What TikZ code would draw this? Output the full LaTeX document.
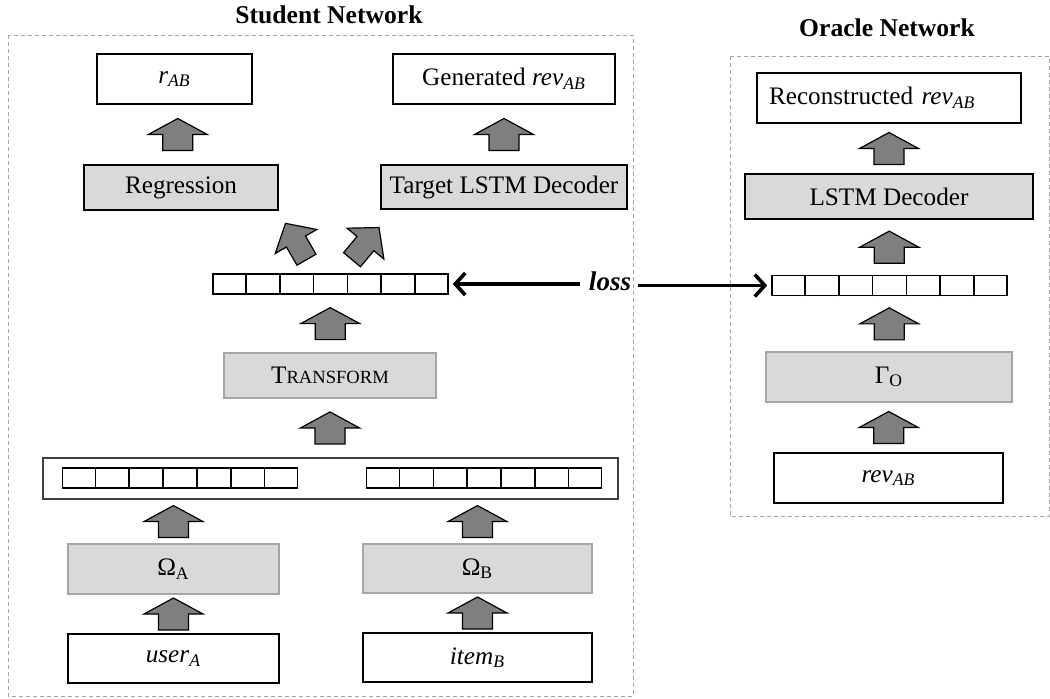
\documentclass[tikz,border=0pt]{standalone}
\usepackage{fontspec}
\setmainfont{Liberation Serif}
\usetikzlibrary{calc,arrows.meta}
\definecolor{boxgray}{HTML}{D9D9D9}
\definecolor{arrgray}{HTML}{7F7F7F}
\definecolor{edgegray}{HTML}{A6A6A6}
\definecolor{framegray}{HTML}{A6A6A6}
\definecolor{outergray}{HTML}{404040}
\begin{document}
\begin{tikzpicture}[x=0.5pt,y=-0.5pt,
  font=\fontsize{12.6}{14}\selectfont,
  whitebox/.style={draw=black,fill=white,line width=0.6pt,inner sep=0pt},
  graybox/.style={draw=black,fill=boxgray,line width=0.6pt,inner sep=0pt},
  lightbox/.style={draw=edgegray,fill=boxgray,line width=0.6pt,inner sep=0pt},
  vecbox/.style={draw=black,fill=white,line width=0.8pt,inner sep=0pt,minimum width=117.5pt,minimum height=10pt},
  netframe/.style={draw=framegray,dash pattern=on 2pt off 1.5pt,line width=0.5pt},
  blockarrow/.style={draw=black,fill=arrgray,line width=0.6pt,line join=miter},
  uparrow/.pic={\path[blockarrow] (-15,16) -- (-15,0) -- (-29.5,0) -- (0,-16) -- (29.5,0) -- (15,0) -- (15,16) -- cycle;},
  tiltarrow/.pic={\path[blockarrow] (-11,0) -- (-11,-21) -- (-24,-21) -- (0,-42) -- (24,-21) -- (11,-21) -- (11,0) -- cycle;},
  lossline/.style={line width=1.8pt,-{Straight Barb[length=5pt,width=11pt]}},
  nettitle/.style={font=\fontsize{12.8}{14}\selectfont\bfseries}
]
\useasboundingbox (0,0) rectangle (1050,698);

% frames and titles
\draw[netframe] (8,35) rectangle (633,696);
\draw[netframe] (730,56) rectangle (1049,516);
\node[nettitle] (stitle) at (329,15) {Student Network};
\node[nettitle] (otitle) at (887,28) {Oracle Network};

% student network
\node[whitebox,minimum width=77.5pt,minimum height=25pt] (rab) at (174.5,79) {\textit{r}\textsubscript{\textit{AB}}};
\node[whitebox,minimum width=111pt,minimum height=25pt] (gen) at (504,79) {Generated \textit{rev}\textsubscript{\textit{AB}}};
\node[graybox,minimum width=97pt,minimum height=22.5pt] (reg) at (181,187.5) {Regression};
\node[graybox,minimum width=123pt,minimum height=22pt] (tld) at (504,187) {Target LSTM Decoder};
\node[vecbox] (svec) at (330.5,284) {};
\node[lightbox,minimum width=106pt,minimum height=22.5pt] (trans) at (330,375.5) {T{\fontsize{9.3}{10}\selectfont RANSFORM}};
\node[draw=outergray,fill=white,line width=0.7pt,inner sep=0pt,minimum width=287.5pt,minimum height=20.5pt] (cat) at (330.5,478.5) {};
\node[vecbox] (uvec) at (180,478) {};
\node[vecbox] (ivec) at (484,478) {};
\node[lightbox,minimum width=105.5pt,minimum height=25pt] (oma) at (173.5,569) {Ω\textsubscript{A}};
\node[lightbox,minimum width=114.5pt,minimum height=24.5pt] (omb) at (477.5,568.5) {Ω\textsubscript{B}};
\node[whitebox,minimum width=105.5pt,minimum height=24.5pt] (user) at (173.5,658.5) {\textit{user}\textsubscript{\textit{A}}};
\node[whitebox,minimum width=114.5pt,minimum height=24.5pt] (item) at (477.5,657.5) {\textit{item}\textsubscript{\textit{B}}};

% oracle network
\node[whitebox,minimum width=132pt,minimum height=25pt,text width=120pt,align=left,inner xsep=6pt] (recon) at (889,98) {Reconstructed \textit{rev}\textsubscript{\textit{AB}}};
\node[graybox,minimum width=144pt,minimum height=22.5pt] (lstm) at (889,196.5) {LSTM Decoder};
\node[vecbox] (ovec) at (889.5,285.5) {};
\node[lightbox,minimum width=123pt,minimum height=25pt] (gam) at (889,377) {Γ\textsubscript{O}};
\node[whitebox,minimum width=114.5pt,minimum height=25pt] (rev) at (888.5,478) {\textit{rev}\textsubscript{\textit{AB}}};

% vector cells
\foreach \v in {svec,uvec,ivec,ovec}
  \foreach \i in {1,...,6}
    \draw[line width=0.8pt] ($(\v.south west)!\i/7!(\v.south east)$) -- ($(\v.north west)!\i/7!(\v.north east)$);

% block arrows (student)
\pic at ($(reg.north)!0.5!(rab.south)$) {uparrow};
\pic at ($(tld.north)!0.5!(gen.south)$) {uparrow};
\pic[rotate=30] at ($(svec.north)+(-24,-13.5)$) {tiltarrow};
\pic[rotate=-40] at ($(svec.north)+(21.5,-13.5)$) {tiltarrow};
\pic at ($(svec.south)!0.5!(trans.north)$) {uparrow};
\pic at ($(trans.north |- cat.north)!0.5!(trans.south)$) {uparrow};
\pic at ($(oma.north)!0.5!(oma.north |- cat.south)$) {uparrow};
\pic at ($(omb.north)!0.5!(omb.north |- cat.south)$) {uparrow};
\pic at ($(user.north)!0.5!(oma.south)$) {uparrow};
\pic at ($(item.north)!0.5!(omb.south)$) {uparrow};

% block arrows (oracle)
\pic at ($(lstm.north)!0.5!(recon.south)$) {uparrow};
\pic at ($(ovec.north)!0.5!(lstm.south)$) {uparrow};
\pic at ($(gam.north)!0.5!(ovec.south)$) {uparrow};
\pic at ($(rev.north)!0.5!(gam.south)$) {uparrow};

% loss
\node[font=\fontsize{13.5}{14}\selectfont\bfseries\itshape,inner sep=2.5pt] (loss) at (610,281) {loss};
\draw[lossline,shorten >=2pt,shorten <=2pt] (loss.west |- svec.east) -- (svec.east);
\draw[lossline,shorten >=2pt,shorten <=1pt] (loss.east |- ovec.west) -- (ovec.west);
\end{tikzpicture}
\end{document}
